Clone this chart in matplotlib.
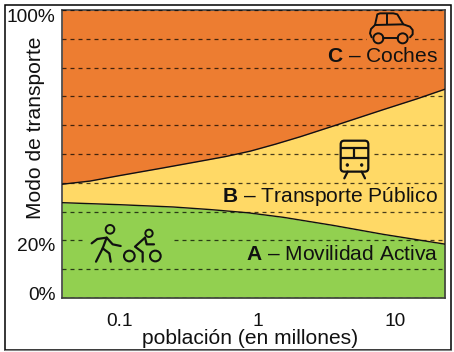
import numpy as np
import matplotlib
matplotlib.use("Agg")
import matplotlib.pyplot as plt
from matplotlib.patches import Circle, Rectangle, FancyBboxPatch
from matplotlib.transforms import ScaledTranslation
from matplotlib.ticker import NullLocator

plt.rcParams['font.family'] = ['Liberation Sans', 'DejaVu Sans']
plt.rcParams['mathtext.fontset'] = 'custom'
plt.rcParams['mathtext.bf'] = 'Liberation Sans:bold'
plt.rcParams['mathtext.rm'] = 'Liberation Sans'

# population (millions) and the share limits
pop_active = [0.0382, 0.1, 0.245, 0.456, 0.85, 1.55, 3.56, 8.2, 23]
active_top = [33.1, 32.4, 31.6, 30.7, 29.6, 28.0, 25.2, 22.1, 18.7]
pop_public = [0.0382, 0.061, 0.1, 0.198, 0.385, 0.586, 0.89, 1.35, 2.05, 4.0, 8.2, 14.5, 23]
public_top = [39.5, 40.6, 42.5, 45.0, 47.5, 49.1, 51.0, 53.4, 56, 60.5, 65.4, 69.2, 72.5]

ytick_values = [0, 10, 20, 30, 40, 50, 60, 70, 80, 90, 100]
ytick_labels = ['0%', '', '20%', '', '', '', '', '', '', '', '100%']
xtick_values = [0.1, 1, 10]
xtick_labels = ['0.1', '1', '10']

ORANGE = '#ED7D31'
YELLOW = '#FFD966'
GREEN = '#92D050'

fig = plt.figure(figsize=(4.54, 3.52), dpi=100)
ax = fig.add_axes([62 / 454, 54 / 352, 383 / 454, 288 / 352])

# common x grid only so that the fills can be stacked
xs = sorted(set(pop_active) | set(pop_public))
lx = np.log10(xs)
a = np.interp(lx, np.log10(pop_active), active_top)
b = np.interp(lx, np.log10(pop_public), public_top)
ax.fill_between(xs, 0, a, color=GREEN, lw=0, zorder=1)
ax.fill_between(xs, a, b, color=YELLOW, lw=0, zorder=1)
ax.fill_between(xs, b, 100, color=ORANGE, lw=0, zorder=1)
ax.plot(pop_active, active_top, color='#111111', lw=1.0, zorder=3)
ax.plot(pop_public, public_top, color='#111111', lw=1.0, zorder=3)

ax.set_xscale('log')
ax.set_xlim(0.0382, 23)
ax.set_ylim(0, 100)
ax.set_xticks(xtick_values, xtick_labels)
ax.xaxis.set_minor_locator(NullLocator())
ax.set_yticks(ytick_values, ytick_labels)
ax.tick_params(length=0, labelsize=13.8, colors='#111111')
ax.tick_params(axis='x', pad=11)
ax.tick_params(axis='y', pad=4.5)
ax.grid(axis='y', color='black', alpha=0.72, lw=0.9, ls=(0, (3.2, 3.2)), zorder=2)
ax.grid(axis='x', visible=False)
ax.set_axisbelow(False)
for s in ax.spines.values():
    s.set_color('#404040')
    s.set_linewidth(1.2)

# hand placed offsets of the y labels
for lab, dy in zip(ax.get_yticklabels(), [5, 0, -4, 0, 0, 0, 0, 0, 0, 0, -5]):
    lab.set_transform(lab.get_transform() + ScaledTranslation(0, dy / 100, fig.dpi_scale_trans))

ax.set_xlabel('población (en millones)', fontsize=15.1, color='#111111')
ax.xaxis.set_label_coords((250 - 62) / 383, -(339 - 298) / 288)
ax.xaxis.label.set_va('center')
ax.set_ylabel('Modo de transporte', fontsize=15.1, color='#111111')
ax.yaxis.set_label_coords((36 - 62) / 383, (298 - 128) / 288)
ax.yaxis.label.set_va('center')

# overlay in pixel coordinates for frame, labels and icons
ov = fig.add_axes([0, 0, 1, 1], zorder=5)
ov.set_xlim(0, 454)
ov.set_ylim(352, 0)
ov.axis('off')
ov.add_patch(Rectangle((5, 5), 446, 344.5, fill=False, ec='black', lw=1.1))
ov.plot([5, 451], [350, 350], color='#808080', lw=0.8)

for y, txt in [(57, r'$\mathbf{C}$ – Coches'),
               (196, r'$\mathbf{B}$ – Transporte Público'),
               (255, r'$\mathbf{A}$ – Movilidad Activa')]:
    ov.text(438, y, txt, ha='right', va='center', fontsize=15.1, color='#111111')

# gaps in the dashed lines behind the icons
ov.add_patch(Rectangle((83, 236), 90, 8, fc=GREEN, ec='none'))
ov.add_patch(Rectangle((367, 35), 48, 8, fc=ORANGE, ec='none'))
ov.add_patch(Rectangle((340, 150), 32, 8, fc=YELLOW, ec='none'))

ICON = '#111111'


def poly(ox, oy, pts, lw=1.4):
    ov.plot([ox + p[0] / 3 for p in pts], [oy + p[1] / 3 for p in pts],
            color=ICON, lw=lw, solid_capstyle='round', solid_joinstyle='round')


def ring(ox, oy, c, r, fc='none', lw=1.4):
    ov.add_patch(Circle((ox + c[0] / 3, oy + c[1] / 3), r / 3, fc=fc, ec=ICON, lw=lw))


# car
poly(360, 5, [(35, 97), (30, 85), (33, 72), (45, 60), (52, 28), (60, 25), (100, 25),
              (112, 28), (130, 58), (150, 65), (158, 75), (158, 88), (150, 97)])
poly(360, 5, [(45, 60), (130, 58)])
poly(360, 5, [(80, 26), (80, 58)])
poly(360, 5, [(68, 100), (115, 100)])
ring(360, 5, (55, 100), 15)
ring(360, 5, (128, 100), 15)

# train
ov.add_patch(FancyBboxPatch((325 + 57 / 3, 130 + 42 / 3), 63 / 3, 73 / 3,
                            boxstyle='round,pad=3.3,rounding_size=3.5',
                            fc='none', ec=ICON, lw=1.6))
poly(325, 130, [(47, 53), (130, 53)], 1.6)
poly(325, 130, [(47, 85), (130, 85)], 1.6)
poly(325, 130, [(88, 53), (88, 85)], 1.6)
poly(325, 130, [(68, 125), (58, 145)], 1.6)
poly(325, 130, [(110, 125), (120, 145)], 1.6)
ring(325, 130, (67, 105), 4, fc=ICON, lw=0.5)
ring(325, 130, (110, 105), 4, fc=ICON, lw=0.5)

# walker and cyclist
ring(80, 215, (90, 43), 13)
poly(80, 215, [(35, 85), (52, 72), (80, 68), (98, 88), (122, 93)], 1.6)
poly(80, 215, [(80, 68), (68, 100), (48, 140)], 1.6)
poly(80, 215, [(68, 100), (88, 115), (92, 140)], 1.6)
ring(80, 215, (207, 55), 11)
ring(80, 215, (148, 123), 16, lw=1.5)
ring(80, 215, (226, 123), 16, lw=1.5)
poly(80, 215, [(195, 68), (165, 95), (188, 112), (188, 140)], 1.6)
poly(80, 215, [(195, 68), (200, 88), (222, 88)], 1.6)

fig.savefig('out.png', dpi=100)
